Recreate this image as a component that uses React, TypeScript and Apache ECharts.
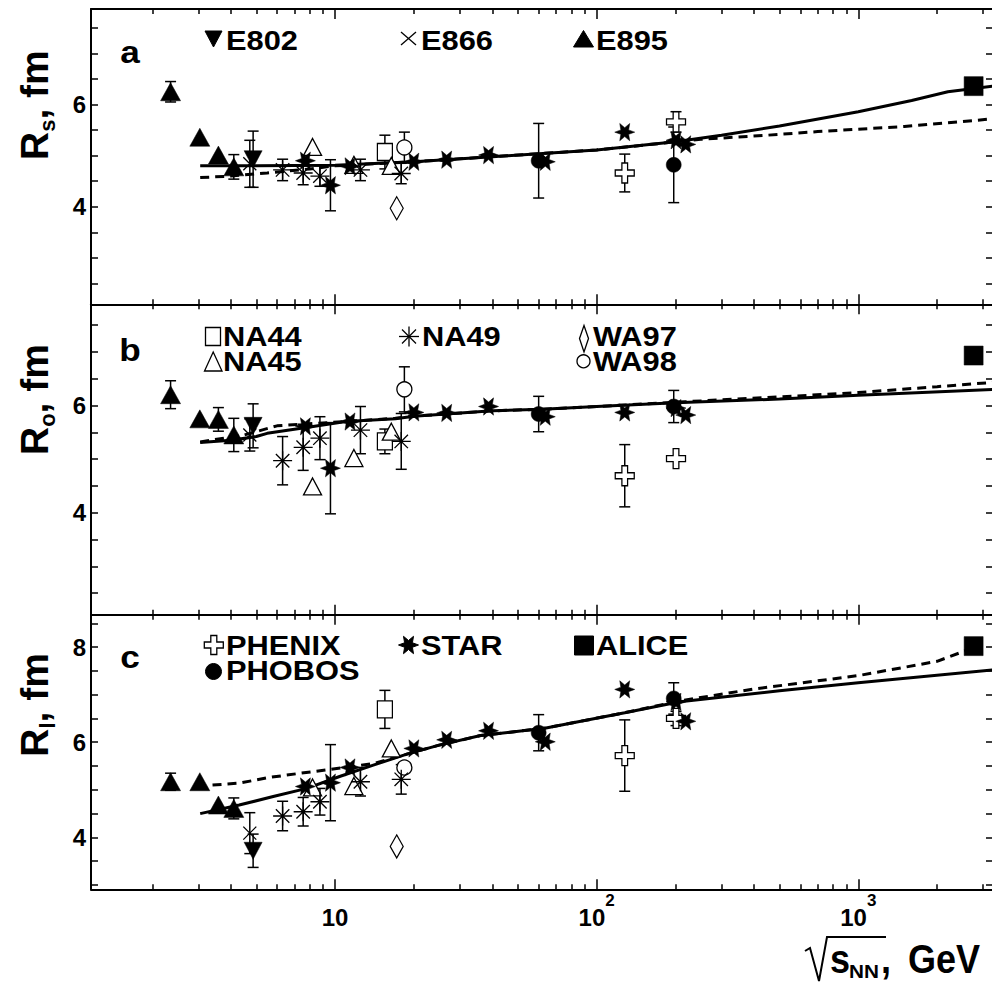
import React, { useEffect, useRef } from "react";
import * as echarts from "echarts";

const FONT = '"Liberation Sans", Arial, Helvetica, sans-serif';

// ---------- data: [sqrt(s_NN) in GeV, radius in fm, error in fm] ----------
const E802_Rs = [[4.86, 4.93, 0.55]];
const E802_Ro = [[4.86, 5.62, 0.41]];
const E802_Rl = [[4.86, 3.72, 0.35]];

const E866_Rs = [[4.72, 4.84, 0.46]];
const E866_Ro = [[4.72, 5.45, 0.3]];
const E866_Rl = [[4.72, 4.09, 0.43]];

const E895_Rs = [[2.35, 6.25, 0.2], [3.04, 5.36, 0], [3.58, 5.01, 0], [4.1, 4.78, 0.24]];
const E895_Ro = [[2.35, 6.2, 0.26], [3.04, 5.75, 0], [3.58, 5.74, 0.22], [4.1, 5.45, 0.31]];
const E895_Rl = [[2.35, 5.17, 0.18], [3.04, 5.17, 0], [3.58, 4.68, 0], [4.1, 4.61, 0.22]];

const NA44_Rs = [[15.5, 5.07, 0.33]];
const NA44_Ro = [[15.5, 5.33, 0.23]];
const NA44_Rl = [[15.5, 6.69, 0.4]];

const NA45_Rs = [[8.2, 5.17, 0], [11.8, 4.82, 0], [16.4, 4.8, 0]];
const NA45_Ro = [[8.2, 4.49, 0], [11.8, 5.02, 0], [16.4, 5.51, 0]];
const NA45_Rl = [[8.2, 5.05, 0], [11.8, 5.08, 0], [16.4, 5.87, 0]];

const NA49_Rs = [[6.3, 4.72, 0.21], [7.55, 4.66, 0.23], [8.75, 4.6, 0.2], [12.5, 4.72, 0.21], [17.9, 4.65, 0.2]];
const NA49_Ro = [[6.3, 4.97, 0.45], [7.55, 5.22, 0.43], [8.75, 5.39, 0.4], [12.5, 5.54, 0.44], [17.9, 5.33, 0.52]];
const NA49_Rl = [[6.3, 4.45, 0.31], [7.55, 4.54, 0.3], [8.75, 4.75, 0.28], [12.5, 5.17, 0.3], [17.9, 5.22, 0.31]];

const WA97_Rs = [[17.2, 3.97, 0]];
const WA97_Ro: number[][] = [];
const WA97_Rl = [[17.2, 3.81, 0]];

const WA98_Rs = [[18.4, 5.16, 0.3]];
const WA98_Ro = [[18.4, 6.3, 0.42]];
const WA98_Rl = [[18.4, 5.47, 0.1]];

const PHENIX_Rs = [[128, 4.66, 0.37], [201, 5.66, 0.2]];
const PHENIX_Ro = [[128, 4.69, 0.58], [201, 5.01, 0]];
const PHENIX_Rl = [[128, 5.72, 0.75], [201, 6.5, 0.15]];

const PHOBOS_Rs = [[60, 4.9, 0.73], [197, 4.82, 0.74]];
const PHOBOS_Ro = [[60, 5.84, 0.33], [197, 5.98, 0.3]];
const PHOBOS_Rl = [[60, 6.2, 0.38], [197, 6.92, 0.33]];

const STAR_Rs = [[7.7, 4.9, 0], [9.6, 4.42, 0.5], [11.4, 4.79, 0], [20, 4.88, 0], [26.7, 4.92, 0], [38.6, 5.01, 0], [63.6, 4.88, 0], [128, 5.46, 0], [201, 5.3, 0], [219, 5.22, 0]];
const STAR_Ro = [[7.7, 5.61, 0], [9.6, 4.83, 0.85], [11.4, 5.7, 0], [20, 5.87, 0], [26.7, 5.86, 0], [38.6, 5.98, 0], [63.6, 5.79, 0], [128, 5.87, 0], [201, 5.95, 0], [219, 5.82, 0]];
const STAR_Rl = [[7.7, 5.07, 0], [9.6, 5.15, 0.8], [11.4, 5.47, 0], [20, 5.87, 0], [26.7, 6.05, 0], [38.6, 6.24, 0], [63.6, 6.01, 0], [128, 7.11, 0], [201, 6.85, 0], [219, 6.44, 0]];

const ALICE_Rs = [[2760, 6.36, 0]];
const ALICE_Ro = [[2760, 6.93, 0]];
const ALICE_Rl = [[2760, 8.02, 0]];

// curves: [sqrt(s_NN), radius]
const SOLID_Rs = [[3.05, 4.8], [5, 4.8], [10, 4.81], [20, 4.88], [40, 4.98], [100, 5.11], [200, 5.27], [300, 5.4], [500, 5.58], [1000, 5.86], [1600, 6.08], [2200, 6.25], [3270, 6.36]];
const DASHED_Rs = [[3.05, 4.57], [4, 4.6], [5.5, 4.66], [8, 4.74], [10, 4.8], [20, 4.88], [40, 4.98], [100, 5.11], [200, 5.27], [250, 5.32], [450, 5.4], [700, 5.47], [1500, 5.57], [3270, 5.72]];
const SOLID_Ro = [[3.05, 5.31], [4, 5.35], [5, 5.42], [5.5, 5.48], [8, 5.6], [11, 5.7], [17, 5.75], [20, 5.8], [40, 5.9], [62, 5.93], [100, 5.98], [200, 6.05], [500, 6.12], [1000, 6.19], [3270, 6.3]];
const DASHED_Ro = [[3.05, 5.32], [4.5, 5.45], [6, 5.62], [8, 5.66], [11, 5.7], [17, 5.76], [20, 5.8], [40, 5.9], [62, 5.93], [100, 5.98], [200, 6.06], [500, 6.16], [1000, 6.24], [2000, 6.35], [3270, 6.43]];
const SOLID_Rl = [[3.05, 4.5], [4.3, 4.68], [5.8, 4.86], [7.8, 5.03], [10.4, 5.28], [14, 5.52], [18.8, 5.75], [25, 5.94], [36, 6.14], [64, 6.3], [128, 6.62], [208, 6.85], [500, 7.08], [1000, 7.25], [3270, 7.52]];
const DASHED_Rl = [[3.4, 5.1], [4.3, 5.14], [5.6, 5.26], [7.4, 5.35], [9.3, 5.42], [12, 5.5], [14, 5.55], [18.8, 5.75], [25, 5.94], [36, 6.14], [64, 6.3], [128, 6.62], [208, 6.87], [400, 7.12], [1000, 7.4], [2000, 7.7], [2800, 8.0]];

// ticks
const X_MIN = 1.1665;
const X_MAX = 3273;
const X_MAJOR_TICKS = [10, 100, 1000];
const X_MINOR_TICKS = [2, 3, 4, 5, 6, 7, 8, 9, 20, 30, 40, 50, 60, 70, 80, 90, 200, 300, 400, 500, 600, 700, 800, 900, 2000, 3000];
const Y_TICKS_AB = [2.5, 3, 3.5, 4, 4.5, 5, 5.5, 6, 6.5, 7, 7.5];
const Y_TICKS_C = [3, 3.5, 4, 4.5, 5, 5.5, 6, 6.5, 7, 7.5, 8, 8.5];
const Y_LABELS_AB = [4, 6];
const Y_LABELS_C = [4, 6, 8];

// ---------- layout / style ----------
const PANELS = [
  { top: 9, height: 295.3, yMin: 2.09, yMax: 7.87, ticks: Y_TICKS_AB, labels: Y_LABELS_AB },
  { top: 304.3, height: 310.4, yMin: 2.1, yMax: 7.885, ticks: Y_TICKS_AB, labels: Y_LABELS_AB },
  { top: 614.7, height: 274.6, yMin: 2.91, yMax: 8.68, ticks: Y_TICKS_C, labels: Y_LABELS_C },
];

const STAR_PATH = "path://M10,0L3.9,2.25L5,8.66L0,4.5L-5,8.66L-3.9,2.25L-10,0L-3.9,-2.25L-5,-8.66L0,-4.5L5,-8.66L3.9,-2.25Z";
const CROSS_PATH = "path://M-3,-10L3,-10L3,-3L10,-3L10,3L3,3L3,10L-3,10L-3,3L-10,3L-10,-3L-3,-3Z";
const ASTER_PATH = "path://M0,-10L0,10M-10,0L10,0M-7.07,-7.07L7.07,7.07M7.07,-7.07L-7.07,7.07";
const X_PATH = "path://M-10,-10L10,10M10,-10L-10,10";

type Exp = { name: string; data: number[][][]; symbol: string; size: number | number[]; rotate?: number; kind: "fill" | "open" | "stroke" };

const EXPERIMENTS: Exp[] = [
  { name: "WA97", data: [WA97_Rs, WA97_Ro, WA97_Rl], symbol: "diamond", size: [13, 23], kind: "open" },
  { name: "WA98", data: [WA98_Rs, WA98_Ro, WA98_Rl], symbol: "circle", size: 15, kind: "open" },
  { name: "NA44", data: [NA44_Rs, NA44_Ro, NA44_Rl], symbol: "rect", size: [15, 17], kind: "open" },
  { name: "NA45", data: [NA45_Rs, NA45_Ro, NA45_Rl], symbol: "triangle", size: [18, 17], kind: "open" },
  { name: "NA49", data: [NA49_Rs, NA49_Ro, NA49_Rl], symbol: ASTER_PATH, size: 19, kind: "stroke" },
  { name: "E866", data: [E866_Rs, E866_Ro, E866_Rl], symbol: X_PATH, size: 13, kind: "stroke" },
  { name: "PHENIX", data: [PHENIX_Rs, PHENIX_Ro, PHENIX_Rl], symbol: CROSS_PATH, size: [19, 20], kind: "open" },
  { name: "E895", data: [E895_Rs, E895_Ro, E895_Rl], symbol: "triangle", size: [20, 18], kind: "fill" },
  { name: "E802", data: [E802_Rs, E802_Ro, E802_Rl], symbol: "triangle", size: [18, 17], rotate: 180, kind: "fill" },
  { name: "PHOBOS", data: [PHOBOS_Rs, PHOBOS_Ro, PHOBOS_Rl], symbol: "circle", size: 15, kind: "fill" },
  { name: "STAR", data: [STAR_Rs, STAR_Ro, STAR_Rl], symbol: STAR_PATH, size: [20, 17.3], kind: "fill" },
  { name: "ALICE", data: [ALICE_Rs, ALICE_Ro, ALICE_Rl], symbol: "rect", size: 19, kind: "fill" },
];

const CURVES = [
  [SOLID_Rs, DASHED_Rs],
  [SOLID_Ro, DASHED_Ro],
  [SOLID_Rl, DASHED_Rl],
];

const BLACK = "#000";

function itemStyleFor(kind: string) {
  if (kind === "fill") return { color: BLACK, borderColor: BLACK, borderWidth: 0.5, opacity: 1 };
  if (kind === "open") return { color: "#fff", borderColor: BLACK, borderWidth: 1.3, opacity: 1 };
  return { color: "none", borderColor: BLACK, borderWidth: 1.3, opacity: 1 };
}

function renderErr(params: any, api: any) {
  const x = api.value(0);
  const y = api.value(1);
  const e = api.value(2);
  const p1 = api.coord([x, y + e]);
  const p2 = api.coord([x, y - e]);
  const w = 5.5;
  const st = { stroke: BLACK, lineWidth: 1.5, fill: "none" };
  return {
    type: "group",
    children: [
      { type: "line", shape: { x1: p1[0], y1: p1[1], x2: p2[0], y2: p2[1] }, style: st },
      { type: "line", shape: { x1: p1[0] - w, y1: p1[1], x2: p1[0] + w, y2: p1[1] }, style: st },
      { type: "line", shape: { x1: p2[0] - w, y1: p2[1], x2: p2[0] + w, y2: p2[1] }, style: st },
    ],
  };
}

// ---------- graphic helpers (legend icons, titles) ----------
function txt(text: string, x: number, y: number, size: number, opt: any = {}) {
  return {
    type: "text",
    x,
    y,
    rotation: opt.rotation || 0,
    scaleX: opt.sx || 1,
    scaleY: opt.sy || 1,
    z: 100,
    style: {
      text,
      fontSize: size,
      fontWeight: "bold",
      fontFamily: FONT,
      fill: BLACK,
      align: opt.align || "left",
      verticalAlign: "middle",
    },
  };
}
const solidStyle = { fill: BLACK, stroke: BLACK, lineWidth: 1 };
const openStyle = { fill: "#fff", stroke: BLACK, lineWidth: 1.3 };
const lineSt = { stroke: BLACK, lineWidth: 1.3 };
function polyG(points: number[][], style: any) {
  return { type: "polygon", shape: { points }, style, z: 100 };
}
function lineG(x1: number, y1: number, x2: number, y2: number) {
  return { type: "line", shape: { x1, y1, x2, y2 }, style: lineSt, z: 100 };
}
function starPts(cx: number, cy: number, r: number) {
  const pts: number[][] = [];
  for (let k = 0; k < 12; k++) {
    const a = (k * Math.PI) / 6;
    const rr = k % 2 === 0 ? r : r * 0.45;
    pts.push([cx + rr * Math.cos(a), cy + rr * Math.sin(a)]);
  }
  return pts;
}
function crossPts(cx: number, cy: number, h: number, t: number) {
  return [
    [cx - t, cy - h], [cx + t, cy - h], [cx + t, cy - t], [cx + h, cy - t], [cx + h, cy + t], [cx + t, cy + t],
    [cx + t, cy + h], [cx - t, cy + h], [cx - t, cy + t], [cx - h, cy + t], [cx - h, cy - t], [cx - t, cy - t],
  ];
}

function buildGraphics() {
  const LF = 28;
  const SX = 1.1;
  const g: any[] = [];
  // panel letters
  g.push(txt("a", 130, 52, 32, { align: "center", sx: 1.1 }));
  g.push(txt("b", 130, 350.5, 32, { align: "center", sx: 1.1 }));
  g.push(txt("c", 130, 657, 32, { align: "center", sx: 1.1 }));
  // legend panel a
  g.push(polyG([[205, 31], [222, 31], [213.5, 47]], solidStyle));
  g.push(txt("E802", 226, 40.5, LF, { sx: SX }));
  g.push(lineG(401, 32, 416, 45), lineG(416, 32, 401, 45));
  g.push(txt("E866", 421, 40.5, LF, { sx: SX }));
  g.push(polyG([[573.5, 47], [593.5, 47], [583.5, 30.5]], solidStyle));
  g.push(txt("E895", 596, 40.5, LF, { sx: SX }));
  // legend panel b
  g.push({ type: "rect", shape: { x: 205.5, y: 327.5, width: 15, height: 18 }, style: openStyle, z: 100 });
  g.push(txt("NA44", 223, 336.3, LF, { sx: SX }));
  g.push(polyG([[204.5, 371], [222, 371], [213.2, 352]], openStyle));
  g.push(txt("NA45", 223, 361.3, LF, { sx: SX }));
  g.push(lineG(409, 326.5, 409, 346.5), lineG(399, 336.5, 419, 336.5), lineG(402, 329.5, 416, 343.5), lineG(416, 329.5, 402, 343.5));
  g.push(txt("NA49", 422, 336.3, LF, { sx: SX }));
  g.push(polyG([[584, 325.5], [588.5, 338.5], [584, 352], [579.5, 338.5]], openStyle));
  g.push(txt("WA97", 593, 336.3, LF, { sx: SX }));
  g.push({ type: "circle", shape: { cx: 583.5, cy: 361.3, r: 6.5 }, style: openStyle, z: 100 });
  g.push(txt("WA98", 593, 361.3, LF, { sx: SX }));
  // legend panel c
  g.push(polyG(crossPts(213.8, 645, 9.5, 3), openStyle));
  g.push(txt("PHENIX", 226, 645, LF, { sx: SX }));
  g.push({ type: "circle", shape: { cx: 213.5, cy: 671.5, r: 8 }, style: solidStyle, z: 100 });
  g.push(txt("PHOBOS", 226, 670.5, LF, { sx: SX }));
  g.push(polyG(starPts(408.5, 645, 10), solidStyle));
  g.push(txt("STAR", 421, 645, LF, { sx: SX }));
  g.push({ type: "rect", shape: { x: 574.5, y: 636, width: 19, height: 19 }, style: solidStyle, z: 100 });
  g.push(txt("ALICE", 596, 645, LF, { sx: SX }));
  // y-axis titles (rotated)
  const rot = { rotation: Math.PI / 2 };
  const yTitles = [
    { start: 160, sub: "s", subW: 12.2 },
    { start: 455, sub: "o", subW: 13.4 },
    { start: 756.7, sub: "l", subW: 6.1 },
  ];
  yTitles.forEach((t) => {
    const rEnd = t.start - 28.2;
    g.push(txt("R", 34.6, t.start, 39, rot));
    g.push(txt(t.sub, 47.3, rEnd, 22, rot));
    g.push(txt(", fm", 34.6, rEnd - t.subW, 39, rot));
  });
  // x-axis title
  g.push({ type: "polyline", shape: { points: [[805, 951], [810, 948], [819, 981], [827, 937], [886, 937]] }, style: { stroke: BLACK, lineWidth: 2, fill: "none" }, z: 100 });
  g.push(txt("s", 830, 959.3, 40, { sx: 0.9 }));
  g.push(txt("NN", 849, 972, 18, { sx: 1.15 }));
  g.push(txt(",", 881, 959.3, 40, { sx: 0.9 }));
  g.push(txt("GeV", 908, 959.3, 40, { sx: 0.9 }));
  return g;
}

function buildOption() {
  const grid: any[] = [];
  const xAxis: any[] = [];
  const yAxis: any[] = [];
  const series: any[] = [];
  const tickLine = { color: BLACK, width: 1.5 };
  const labelFont = { fontSize: 24, fontWeight: "bold", fontFamily: FONT, color: BLACK };

  PANELS.forEach((p, i) => {
    grid.push({ left: 91, top: p.top, width: 902, height: p.height, containLabel: false, outerBoundsMode: "none", show: false });
    const xBase = { type: "log", logBase: 10, min: X_MIN, max: X_MAX, gridIndex: i, splitLine: { show: false }, axisPointer: { show: false } };
    const isLast = i === PANELS.length - 1;
    ["bottom", "top"].forEach((pos) => {
      xAxis.push({
        ...xBase,
        position: pos,
        axisLine: { show: true, onZero: false, lineStyle: { color: BLACK, width: 2 } },
        axisTick: { show: true, inside: true, length: 10, customValues: X_MAJOR_TICKS, lineStyle: tickLine },
        axisLabel:
          pos === "bottom" && isLast
            ? {
                show: true,
                customValues: X_MAJOR_TICKS,
                margin: 0,
                formatter: (v: number) => {
                  const e = Math.round(Math.log10(v));
                  return e === 1 ? "{b|10}" : "{b|10}{s|" + e + "}";
                },
                rich: {
                  b: { fontSize: 24, fontWeight: "bold", fontFamily: FONT, color: BLACK, lineHeight: 40, verticalAlign: "bottom" },
                  s: { fontSize: 17, fontWeight: "bold", fontFamily: FONT, color: BLACK, lineHeight: 40, verticalAlign: "top", padding: [3, 0, 0, 0] },
                },
              }
            : { show: false },
      });
      xAxis.push({
        ...xBase,
        position: pos,
        axisLine: { show: false, onZero: false },
        axisTick: { show: true, inside: true, length: 5, customValues: X_MINOR_TICKS, lineStyle: tickLine },
        axisLabel: { show: false },
      });
    });
    ["left", "right"].forEach((pos) => {
      yAxis.push({
        type: "value",
        gridIndex: i,
        position: pos,
        min: p.yMin,
        max: p.yMax,
        splitLine: { show: false },
        axisLine: { show: true, onZero: false, lineStyle: { color: BLACK, width: 2 } },
        axisTick: { show: true, inside: true, length: 7, customValues: p.ticks, lineStyle: tickLine },
        axisLabel: pos === "left" ? { show: true, customValues: p.labels, margin: 5, ...labelFont } : { show: false },
      });
    });

    const xi = i * 4;
    const yi = i * 2;
    const [solid, dashed] = CURVES[i];
    series.push({ type: "line", xAxisIndex: xi, yAxisIndex: yi, data: solid, symbol: "none", showSymbol: false, silent: true, z: 2, lineStyle: { color: BLACK, width: 3, type: "solid", opacity: 1 } });
    series.push({ type: "line", xAxisIndex: xi, yAxisIndex: yi, data: dashed, symbol: "none", showSymbol: false, silent: true, z: 2, lineStyle: { color: BLACK, width: 3, type: [9, 6], opacity: 1 } });

    const errs: number[][] = [];
    EXPERIMENTS.forEach((ex) => ex.data[i].forEach((d) => { if (d[2] > 0) errs.push([d[0], d[1], d[2]]); }));
    series.push({ type: "custom", xAxisIndex: xi, yAxisIndex: yi, data: errs, renderItem: renderErr, silent: true, z: 3 });

    EXPERIMENTS.forEach((ex) => {
      series.push({
        type: "scatter",
        name: ex.name,
        xAxisIndex: xi,
        yAxisIndex: yi,
        data: ex.data[i].map((d) => [d[0], d[1]]),
        symbol: ex.symbol,
        symbolSize: ex.size,
        symbolRotate: ex.rotate || 0,
        itemStyle: itemStyleFor(ex.kind),
        silent: true,
        z: 4,
      });
    });
  });

  return {
    animation: false,
    backgroundColor: "#fff",
    grid,
    xAxis,
    yAxis,
    series,
    graphic: buildGraphics(),
  };
}

export default function App() {
  const ref = useRef<HTMLDivElement>(null);
  useEffect(() => {
    if (!ref.current) return;
    const chart = echarts.init(ref.current, null, { renderer: "svg" });
    chart.setOption(buildOption() as any);
    return () => chart.dispose();
  }, []);
  return <div ref={ref} style={{ position: "absolute", left: 0, top: 0, width: 992, height: 983, background: "#fff" }} />;
}
